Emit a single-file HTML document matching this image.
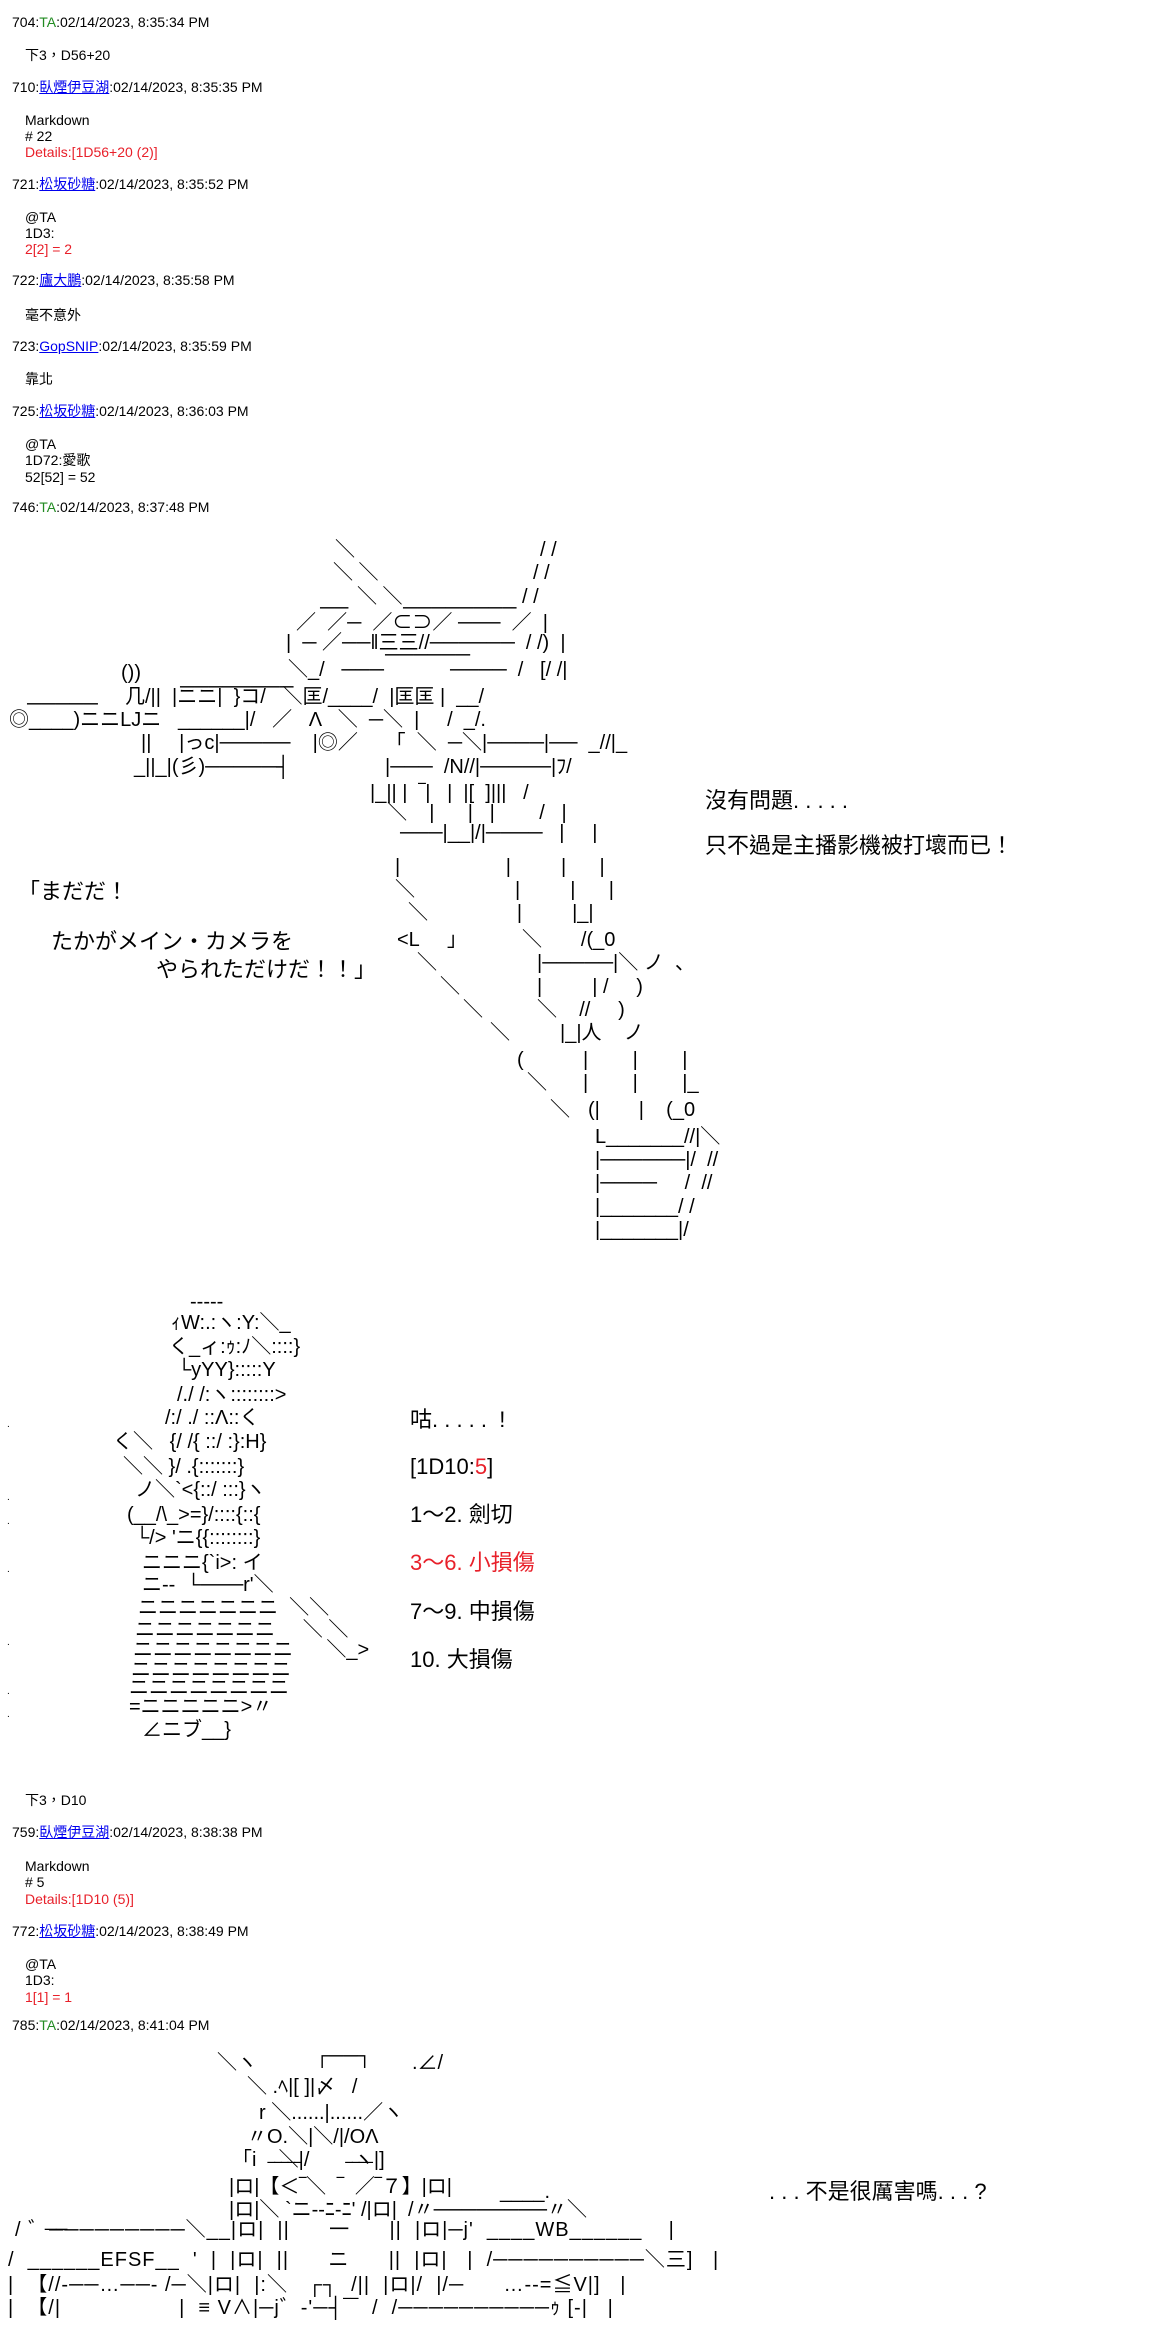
<!DOCTYPE html>
<html><head><meta charset="utf-8">
<style>
html,body{margin:0;padding:0;background:#fff;}
body{width:1170px;height:2344px;position:relative;overflow:hidden;font-family:"Liberation Sans","Noto Sans CJK TC",sans-serif;color:#000;}
.h{position:absolute;left:12px;font-size:14px;line-height:16px;white-space:pre;}
.c{position:absolute;left:25px;font-size:14px;line-height:16px;white-space:pre;}
.g{color:#228b22}
.b{color:#0000ee;text-decoration:underline}
.r{color:#e8202a}
.a{position:absolute;white-space:pre;font-family:"Liberation Sans","Noto Sans CJK JP",sans-serif;font-size:20px;line-height:24px;}
.t{position:absolute;white-space:pre;font-family:"Liberation Sans","Noto Sans CJK TC",sans-serif;font-size:22px;line-height:26px;}
.j{position:absolute;white-space:pre;font-family:"Liberation Sans","Noto Sans CJK JP",sans-serif;font-size:22px;line-height:26px;}
.d{position:absolute;left:7px;font-size:10px;line-height:10px;}
.w{letter-spacing:1px}
</style></head><body>

<div class="h" style="top:14px">704:<span class="g">TA</span>:02/14/2023, 8:35:34 PM</div>
<div class="c" style="top:47px">下3，D56+20</div>
<div class="h" style="top:79px">710:<span class="b">臥煙伊豆湖</span>:02/14/2023, 8:35:35 PM</div>
<div class="c" style="top:112px">Markdown</div>
<div class="c" style="top:128px"># 22</div>
<div class="c r" style="top:144px">Details:[1D56+20 (2)]</div>
<div class="h" style="top:176px">721:<span class="b">松坂砂糖</span>:02/14/2023, 8:35:52 PM</div>
<div class="c" style="top:209px">@TA</div>
<div class="c" style="top:225px">1D3:</div>
<div class="c r" style="top:241px">2[2] = 2</div>
<div class="h" style="top:272px">722:<span class="b">廬大鵬</span>:02/14/2023, 8:35:58 PM</div>
<div class="c" style="top:307px">毫不意外</div>
<div class="h" style="top:338px">723:<span class="b">GopSNIP</span>:02/14/2023, 8:35:59 PM</div>
<div class="c" style="top:371px">靠北</div>
<div class="h" style="top:403px">725:<span class="b">松坂砂糖</span>:02/14/2023, 8:36:03 PM</div>
<div class="c" style="top:436px">@TA</div>
<div class="c" style="top:452px">1D72:愛歌</div>
<div class="c" style="top:469px">52[52] = 52</div>
<div class="h" style="top:499px">746:<span class="g">TA</span>:02/14/2023, 8:37:48 PM</div>

<!-- AA1 -->
<div class="a" style="left:335px;top:538px">＼</div><div class="a" style="left:540px;top:538px">/ /</div>
<div class="a" style="left:333px;top:561px">＼ ＼</div><div class="a" style="left:533px;top:561px">/ /</div>
<div class="a" style="left:357px;top:585px">＼ ＼</div><div class="a" style="left:522px;top:585px">/ /</div>
<div class="a" style="left:320px;top:596px">──    </div><div class="a" style="left:403px;top:596px">────────</div>
<div class="a" style="left:296px;top:611px">／  ／─  ／⊂⊃／ ───  ／  |</div>
<div class="a" style="left:286px;top:631px">|  ─ ／──‖三三//──────  / /)  |</div>
<div class="a" style="left:385px;top:643px">──────</div>
<div class="a" style="left:121px;top:661px">())</div>
<div class="a" style="left:288px;top:658px">＼_/   ───</div><div class="a" style="left:450px;top:658px">────  /   [/ /|</div>
<div class="a" style="left:180px;top:675px">────────</div>
<div class="a" style="left:125px;top:685px">几/||  |ニニ|  }コ/   ＼匡/____/  |匡匡 |  __/</div>
<div class="a" style="left:27px;top:692px">─────</div>
<div class="a" style="left:9px;top:708px">◎____)ニニLJニ   ______|/   ／   Λ   ＼  ─＼  |     /  _/.</div>
<div class="a" style="left:141px;top:731px">||     |っc|─────    |◎／     「  ＼  ─＼|────|──  _//|_</div>
<div class="a" style="left:134px;top:755px">_||_|(彡)─────┤</div>
<div class="a" style="left:385px;top:755px">|───  /N//|─────|ﾌ/</div>
<div class="a" style="left:370px;top:781px">|_|| |  ‾|   |  |[  ]|||   /</div>
<div class="a" style="left:387px;top:801px">＼    |      |   |        /   |</div>
<div class="a" style="left:400px;top:821px">───|__|/|────   |     |</div>
<div class="a" style="left:395px;top:855px">|                   |         |      |</div>
<div class="a" style="left:395px;top:878px">＼                  |         |      |</div>
<div class="a" style="left:408px;top:901px">＼                |         |_|</div>
<div class="a" style="left:397px;top:928px">&lt;L     」</div><div class="a" style="left:522px;top:928px">＼       /(_0</div>
<div class="a" style="left:417px;top:951px">＼</div><div class="a" style="left:537px;top:951px">|─────|＼ ノ  、</div>
<div class="a" style="left:440px;top:975px">＼</div><div class="a" style="left:537px;top:975px">|         | /     )</div>
<div class="a" style="left:463px;top:998px">＼</div><div class="a" style="left:537px;top:998px">＼    //     )</div>
<div class="a" style="left:490px;top:1021px">＼</div><div class="a" style="left:560px;top:1021px">|_|人    ノ</div>
<div class="a" style="left:517px;top:1048px">(</div><div class="a" style="left:583px;top:1048px">|        |        |</div>
<div class="a" style="left:527px;top:1071px">＼</div><div class="a" style="left:583px;top:1071px">|        |        |_</div>
<div class="a" style="left:550px;top:1098px">＼</div><div class="a" style="left:588px;top:1098px">(|       |    (_0</div>
<div class="a" style="left:595px;top:1125px">L_______//|＼</div>
<div class="a" style="left:595px;top:1148px">|──────|/  //</div>
<div class="a" style="left:595px;top:1171px">|────     /  //</div>
<div class="a" style="left:595px;top:1195px">|_______/ /</div>
<div class="a" style="left:595px;top:1218px">|_______|/</div>

<div class="t" style="left:705px;top:788px">沒有問題. . . . .</div>
<div class="t" style="left:705px;top:833px">只不過是主播影機被打壞而已！</div>
<div class="j" style="left:18px;top:879px">「まだだ！</div>
<div class="j" style="left:51px;top:929px">たかがメイン・カメラを</div>
<div class="j" style="left:156px;top:957px">やられただけだ！！」</div>

<!-- AA2 -->
<div class="a" style="left:190px;top:1290px">-----</div>
<div class="a" style="left:171px;top:1311px">ｨW:.:ヽ:Y:＼_</div>
<div class="a" style="left:169px;top:1335px">く_ィ:ｩ:ﾉ＼::::}</div>
<div class="a" style="left:177px;top:1358px">└yYY}:::::Y</div>
<div class="a" style="left:177px;top:1383px">/./ /:ヽ::::::::&gt;</div>
<div class="a" style="left:165px;top:1406px">/:/ ./ ::Λ::く</div>
<div class="a" style="left:113px;top:1430px">く＼   {/ /{ ::/ :}:H}</div>
<div class="a" style="left:123px;top:1455px">＼＼ }/ .{:::::::}</div>
<div class="a" style="left:135px;top:1478px">ノ＼`&lt;{::/ :::}ヽ</div>
<div class="a" style="left:127px;top:1503px">(__/\_&gt;=}/::::{::{</div>
<div class="a" style="left:135px;top:1526px">└/&gt; 'ニ{{::::::::}</div>
<div class="a" style="left:142px;top:1551px">ニニニ{`i&gt;: イ</div>
<div class="a" style="left:142px;top:1573px">ニ--  └───r'＼</div>
<div class="a" style="left:138px;top:1596px">ニニニニニニニ  ＼＼</div>
<div class="a" style="left:135px;top:1618px">ニニニニニニニ     ＼ ＼</div>
<div class="a" style="left:133px;top:1638px">ニニニニニニニニ      ＼_&gt;</div>
<div class="a" style="left:131px;top:1658px">ニニニニニニニニ</div>
<div class="a" style="left:129px;top:1676px">ニニニニニニニニ</div>
<div class="a" style="left:129px;top:1695px">=ニニニニニ&gt;〃</div>
<div class="a" style="left:142px;top:1718px">∠ニブ__}</div>

<div class="d" style="top:1420px">.</div><div class="d" style="top:1493px">.</div><div class="d" style="top:1517px">.</div><div class="d" style="top:1565px">.</div><div class="d" style="top:1638px">.</div><div class="d" style="top:1687px">.</div><div class="d" style="top:1710px">.</div>

<div class="t" style="left:410px;top:1407px">咕. . . . .  !</div>
<div class="t" style="left:410px;top:1454px">[1D10:<span class="r">5</span>]</div>
<div class="t" style="left:410px;top:1502px">1～2. 劍切</div>
<div class="t r" style="left:410px;top:1550px">3～6. 小損傷</div>
<div class="t" style="left:410px;top:1599px">7～9. 中損傷</div>
<div class="t" style="left:410px;top:1647px">10. 大損傷</div>

<div class="c" style="top:1792px">下3，D10</div>
<div class="h" style="top:1824px">759:<span class="b">臥煙伊豆湖</span>:02/14/2023, 8:38:38 PM</div>
<div class="c" style="top:1858px">Markdown</div>
<div class="c" style="top:1874px"># 5</div>
<div class="c r" style="top:1891px">Details:[1D10 (5)]</div>
<div class="h" style="top:1923px">772:<span class="b">松坂砂糖</span>:02/14/2023, 8:38:49 PM</div>
<div class="c" style="top:1956px">@TA</div>
<div class="c" style="top:1972px">1D3:</div>
<div class="c r" style="top:1989px">1[1] = 1</div>
<div class="h" style="top:2017px">785:<span class="g">TA</span>:02/14/2023, 8:41:04 PM</div>

<!-- AA3 -->
<div class="a" style="left:217px;top:2051px">＼ヽ</div><div class="a" style="left:315px;top:2044px">┌──┐</div><div class="a" style="left:412px;top:2051px">.∠/</div>
<div class="a" style="left:247px;top:2075px">＼ .ﾍ|[ ]|〆   /</div>
<div class="a" style="left:259px;top:2101px">r ＼......|......／ヽ</div>
<div class="a" style="left:247px;top:2125px">〃O.＼|＼/|/OΛ</div>
<div class="a" style="left:232px;top:2148px">「i    ＼|/        ヽ|]</div>
<div class="a" style="left:268px;top:2160px">‾‾‾‾‾        ‾‾‾‾</div>
<div class="a" style="left:229px;top:2175px">|ロ|【＜‾＼  ‾  ／‾７】|ロ|</div>
<div class="a" style="left:229px;top:2198px">|ロ|＼ `ニ--ﾆ-ﾆ' /|ロ|  /〃────────〃＼</div>
<div class="a" style="left:500px;top:2180px">____.</div>
<div class="a" style="left:45px;top:2208px">__</div>
<div class="a w" style="left:15px;top:2218px">/ ゛─────────＼__|ロ|  ||      一      ||  |ロ|─j'  ____WB______    |</div>
<div class="a w" style="left:8px;top:2248px">/  ______EFSF__  '  |  |ロ|  ||      ニ      ||  |ロ|   |  /──────────＼三]   |</div>
<div class="a w" style="left:8px;top:2273px">|  【//-──…──- /─＼|ロ|  |:＼   ┌┐  /||  |ロ|/  |/─      …--=≦V|]   |</div>
<div class="a w" style="left:8px;top:2296px">|  【/|                  |  ≡ V∧|─j゛-'─┤‾‾  /  /──────────ｩ [-|   |</div>

<div class="t" style="left:769px;top:2179px">. . . 不是很厲害嗎. . . ?</div>
</body></html>
